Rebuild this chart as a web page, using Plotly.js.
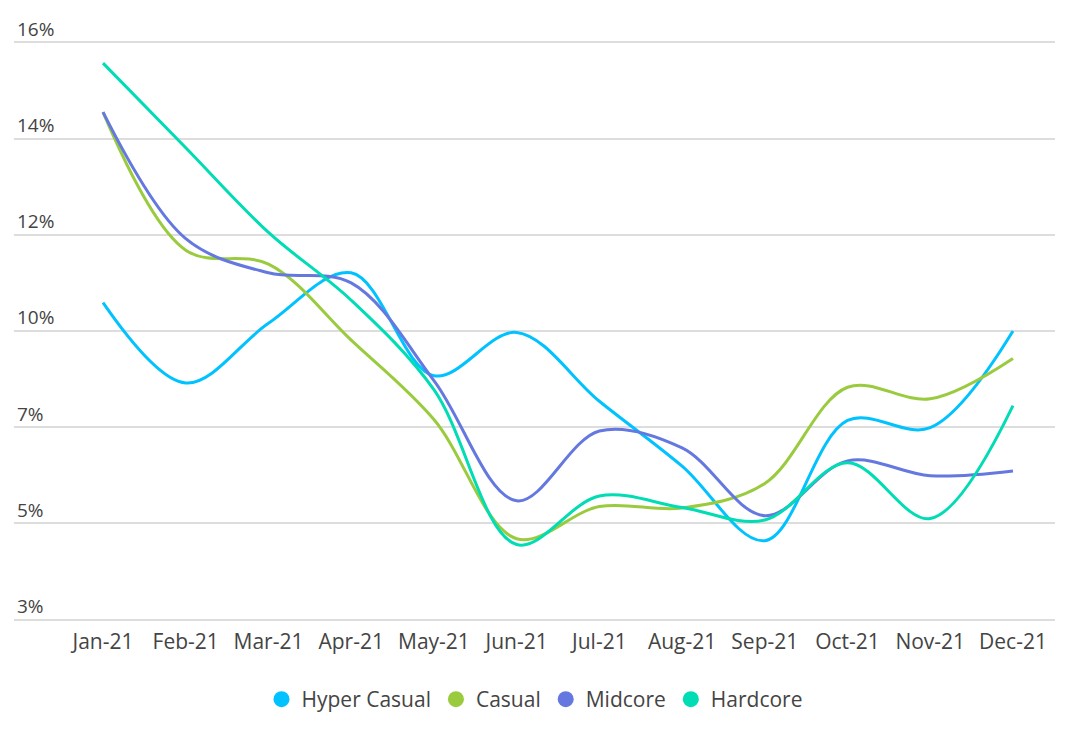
<!DOCTYPE html>
<html>
<head>
<meta charset="utf-8">
<script src="https://cdn.plot.ly/plotly-3.0.1.min.js"></script>
<style>
  html, body { margin: 0; padding: 0; background: #fff; }
  #chart { width: 1076px; height: 734px; }
</style>
</head>
<body>
<div id="chart"></div>
<script>
let months = ["Jan-21", "Feb-21", "Mar-21", "Apr-21", "May-21", "Jun-21",
    "Jul-21", "Aug-21", "Sep-21", "Oct-21", "Nov-21", "Dec-21"]

// values are in gridline units, the labels below are what the chart prints
let hyperCasual = [10.59, 8.92, 10.16, 11.21, 9.07, 9.97, 8.54, 7.19, 5.64, 8.14, 7.99, 10.0]
let casual = [14.55, 11.68, 11.39, 9.81, 8.16, 5.68, 6.35, 6.32, 6.83, 8.83, 8.59, 9.43]
let midcore = [14.55, 11.92, 11.21, 11.0, 8.97, 6.47, 7.92, 7.57, 6.16, 7.30, 6.99, 7.09]
let hardcore = [15.57, 13.81, 12.05, 10.64, 8.78, 5.56, 6.57, 6.33, 6.07, 7.26, 6.10, 8.45]

let yTickVals = [16, 14, 12, 10, 8, 6, 4]
let yTickText = ["16%", "14%", "12%", "10%", "7%", "5%", "3%"]

let seriesNames = ["Hyper Casual", "Casual", "Midcore", "Hardcore"]
let seriesColors = ["#00c2ff", "#9acb3f", "#6478e0", "#00dcb4"]
let seriesValues = [hyperCasual, casual, midcore, hardcore]

let fontFamily = "'Open Sans', 'DejaVu Sans', sans-serif"
let textColor = "#444"

let traces = []
seriesValues.forEach((vals, i) => {
    traces.push({
        x: months,
        y: vals,
        type: "scatter",
        mode: "lines",
        line: { color: seriesColors[i], width: 3, shape: "spline", smoothing: 1 },
        name: seriesNames[i],
        legendgroup: seriesNames[i],
        showlegend: false
    })
})
// legend entries drawn as plain dots
seriesNames.forEach((name, i) => {
    traces.push({
        x: [null],
        y: [null],
        type: "scatter",
        mode: "markers",
        marker: { color: seriesColors[i], size: 16 },
        name: name,
        legendgroup: name
    })
})

let layout = {
    width: 1076,
    height: 734,
    margin: { l: 14, r: 21, t: 41, b: 113 },
    paper_bgcolor: "#fff",
    plot_bgcolor: "#fff",
    font: { family: fontFamily, color: textColor, size: 20 },
    showlegend: true,
    legend: {
        orientation: "h",
        x: 0.5,
        xanchor: "center",
        y: -0.1,
        yanchor: "top",
        font: { size: 21, color: textColor },
        itemclick: "toggle"
    },
    xaxis: {
        type: "category",
        range: [-1.076, 11.508],
        showgrid: false,
        zeroline: false,
        showline: false,
        ticks: "",
        ticklabelstandoff: 6,
        tickfont: { size: 21, color: textColor },
        fixedrange: true
    },
    yaxis: {
        range: [3.97, 16.03],
        tickvals: yTickVals,
        ticktext: yTickText,
        ticklabelposition: "inside top",
        ticklabeloverflow: "allow",
        showgrid: true,
        gridcolor: "#dddddd",
        gridwidth: 1.5,
        zeroline: false,
        showline: false,
        ticks: "",
        tickfont: { size: 19, color: textColor },
        fixedrange: true
    }
}

Plotly.newPlot("chart", traces, layout, { displayModeBar: false, responsive: false })
</script>
</body>
</html>
